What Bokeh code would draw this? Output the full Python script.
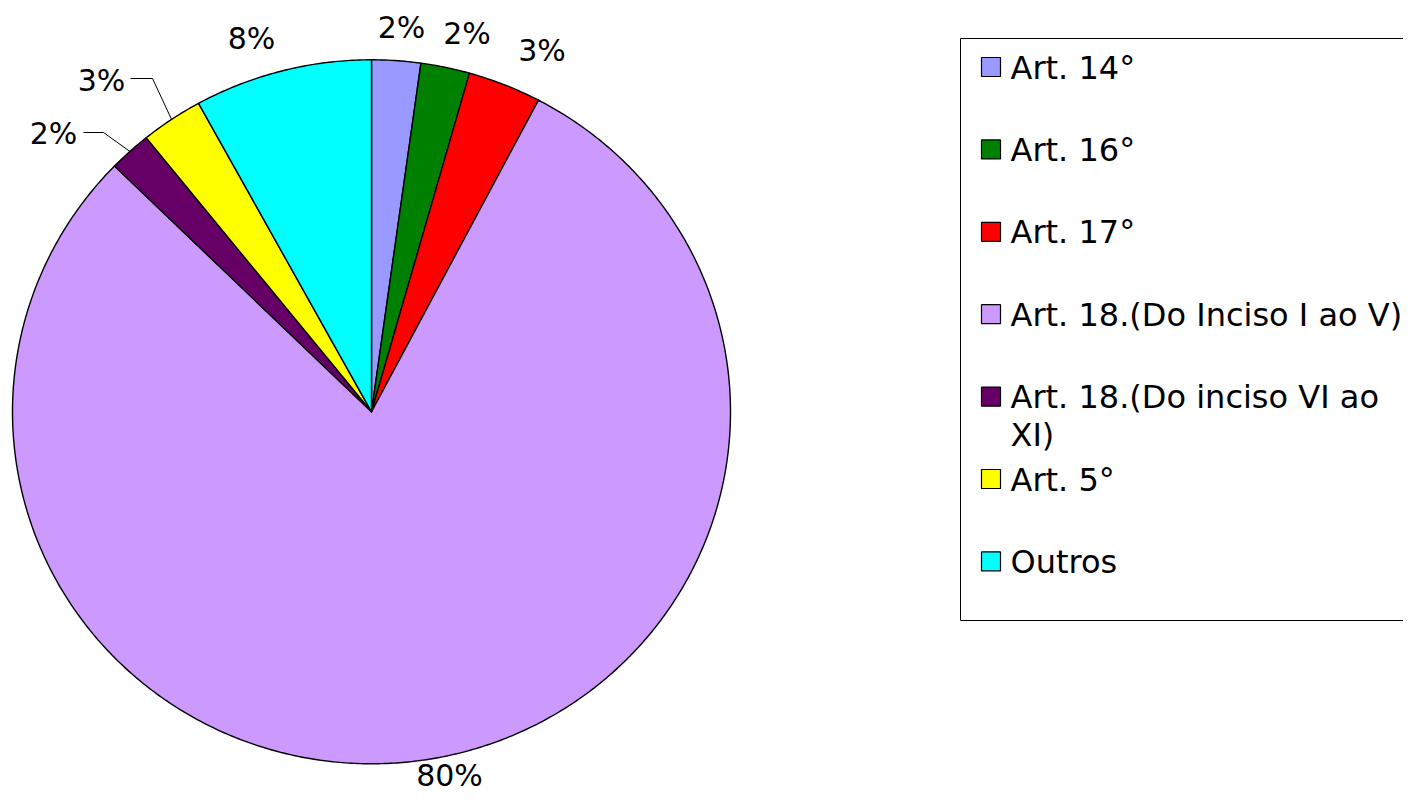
import textwrap
import numpy as np
from bokeh.plotting import figure
from bokeh.models import Range1d
from bokeh.core.properties import value
from bokeh.embed import file_html
from bokeh.resources import INLINE

# ---------------- data ----------------
categories = ["Art. 14°", "Art. 16°", "Art. 17°", "Art. 18.(Do Inciso I ao V)",
              "Art. 18.(Do inciso VI ao XI)", "Art. 5°", "Outros"]
percent = [2.2, 2.2, 3.3, 79.6, 1.9, 2.8, 8.0]
colors = ["#9999FF", "#008000", "#FF0000", "#CC99FF", "#660066", "#FFFF00", "#00FFFF"]

# ---------------- layout ----------------
W, H = 1403, 793
CX, CY, RX, RY = 371.0, 411.3, 359.0, 352.0
# label anchor (center x, text middle y) per slice
label_pos = [(401, 27), (466.5, 32.5), (541.5, 50), (449, 775), (53, 133), (101, 80), (251, 38)]
# leader elbows for the small left slices (index -> (start, elbow))
leaders = {4: [(83, 132), (103, 132)], 5: [(130, 78), (152, 78)]}
LEG_LEFT, LEG_TOP, LEG_BOTTOM = 960, 38, 620
LEG_FIRST, LEG_STEP = 66.5, 82.4
FONT = value("DejaVu Sans")

p = figure(width=W, height=H, output_backend="svg", toolbar_location=None,
           x_range=Range1d(0, W), y_range=Range1d(H, 0),
           x_axis_type=None, y_axis_type=None, min_border=0,
           outline_line_color=None, background_fill_color="white")
p.grid.visible = False

# pie slices, clockwise from 12 o'clock
total = float(sum(percent))
bounds = np.concatenate([[0.0], np.cumsum(percent)]) / total * 2 * np.pi
xs, ys, mids = [], [], []
for a0, a1 in zip(bounds[:-1], bounds[1:]):
    t = np.linspace(a0, a1, max(4, int((a1 - a0) * 120)))
    xs.append([CX] + list(CX + RX * np.sin(t)) + [CX])
    ys.append([CY] + list(CY - RY * np.cos(t)) + [CY])
    mids.append((a0 + a1) / 2)
p.patches(xs, ys, fill_color=colors, line_color="black", line_width=1.4, line_join="round")

# leader lines
lx, ly = [], []
for i, pts in leaders.items():
    m = mids[i]
    ex, ey = CX + RX * np.sin(m), CY - RY * np.cos(m)
    lx.append([pts[0][0], pts[1][0], ex])
    ly.append([pts[0][1], pts[1][1], ey])
p.multi_line(lx, ly, line_color="black", line_width=1)

# slice labels
labels = [f"{round(v)}%" for v in percent]
p.text(x=[q[0] for q in label_pos], y=[q[1] for q in label_pos], text=labels,
       text_font=FONT, text_font_size="30px", text_color="black",
       text_align="center", text_baseline="alphabetic")

# legend
p.quad(left=[LEG_LEFT], right=[LEG_LEFT + 600], top=[LEG_TOP], bottom=[LEG_BOTTOM],
       fill_color=None, line_color="black", line_width=1)
centers = [LEG_FIRST + i * LEG_STEP for i in range(len(categories))]
p.rect(x=[990.5] * len(categories), y=centers, width=19, height=19,
       fill_color=colors, line_color="black", line_width=1.2)
tx, ty, tt = [], [], []
for c, name in zip(centers, categories):
    for j, line in enumerate(textwrap.wrap(name, 26)):
        tx.append(1010)
        ty.append(c + 0.5 + j * 38)
        tt.append(line)
p.text(x=tx, y=ty, text=tt, text_font=FONT, text_font_size="32px",
       text_color="black", text_align="left", text_baseline="alphabetic")

open("out.html", "w").write(file_html(p, INLINE))
